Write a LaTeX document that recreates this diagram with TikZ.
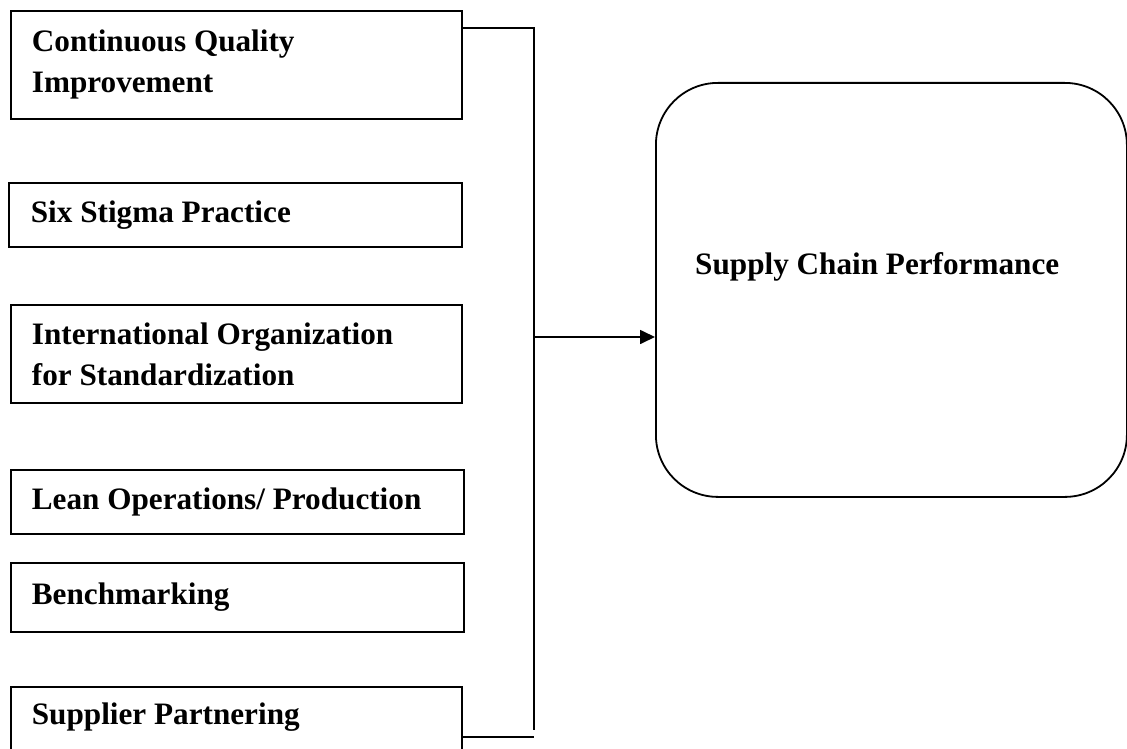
\documentclass[tikz,border=0pt]{standalone}
\usepackage{fontspec}
\setmainfont{Liberation Serif}
\usetikzlibrary{arrows.meta}

% bold body face used in every box
\newcommand{\factorfont}{\fontsize{31.2pt}{41pt}\selectfont\bfseries}

\tikzset{
  factor/.style={draw, line width=1.8pt, rectangle, anchor=north west,
    align=left, inner xsep=21pt, inner ysep=0pt, font=\factorfont,
    text width=#1,
    % keep the font's own word spacing inside the ragged-right boxes
    execute at begin node={\spaceskip=0pt\xspaceskip=0pt\relax}},
  outcome/.style={draw, line width=1.8pt, rectangle, rounded corners=62pt,
    anchor=north west, minimum width=471pt, minimum height=414pt},
  link/.style={line width=1.7pt},
  flow/.style={line width=1.7pt, -{Triangle[length=15pt,width=14pt]}}
}

\begin{document}
\begin{tikzpicture}[x=1pt, y=-1pt]
  \useasboundingbox (0,0) rectangle (1127,749);
  \clip (0,0) rectangle (1127,749);

  % quality management practices (left column)
  \node[factor=409pt, minimum height=108pt] (b1) at (10,10)
    {Continuous Quality\\Improvement};
  \node[factor=409pt, inner xsep=22pt, minimum height=64pt] (b2) at (8,182)
    {Six Stigma Practice};
  \node[factor=409pt, minimum height=98pt] (b3) at (10,304)
    {International Organization\\for Standardization};
  \node[factor=411pt, minimum height=64pt] (b4) at (10,469)
    {Lean Operations/ Production};
  \node[factor=411pt, minimum height=69pt] (b5) at (10,562)
    {Benchmarking};
  \node[factor=409pt, minimum height=66pt, text depth=11.5pt] (b6) at (10,686)
    {Supplier Partnering};

  % outcome
  \node[outcome] (scp) at (655,82) {};
  \node[anchor=base west, font=\factorfont, inner sep=0pt] (scptext) at (695,274)
    {Supply Chain Performance};

  % bracket joining the practices
  \coordinate (jtop) at (534,28);
  \coordinate (jbot) at (534,730);
  \coordinate (jend) at (534,737);
  \coordinate (jmid) at (534,337);
  \draw[link] (b1.east |- jtop) -- (jtop) -- (jbot);
  \draw[link] (b6.east |- jend) -- (jend);

  % arrow into the outcome
  \draw[flow] (jmid) -- (scp.west |- jmid);
\end{tikzpicture}
\end{document}
